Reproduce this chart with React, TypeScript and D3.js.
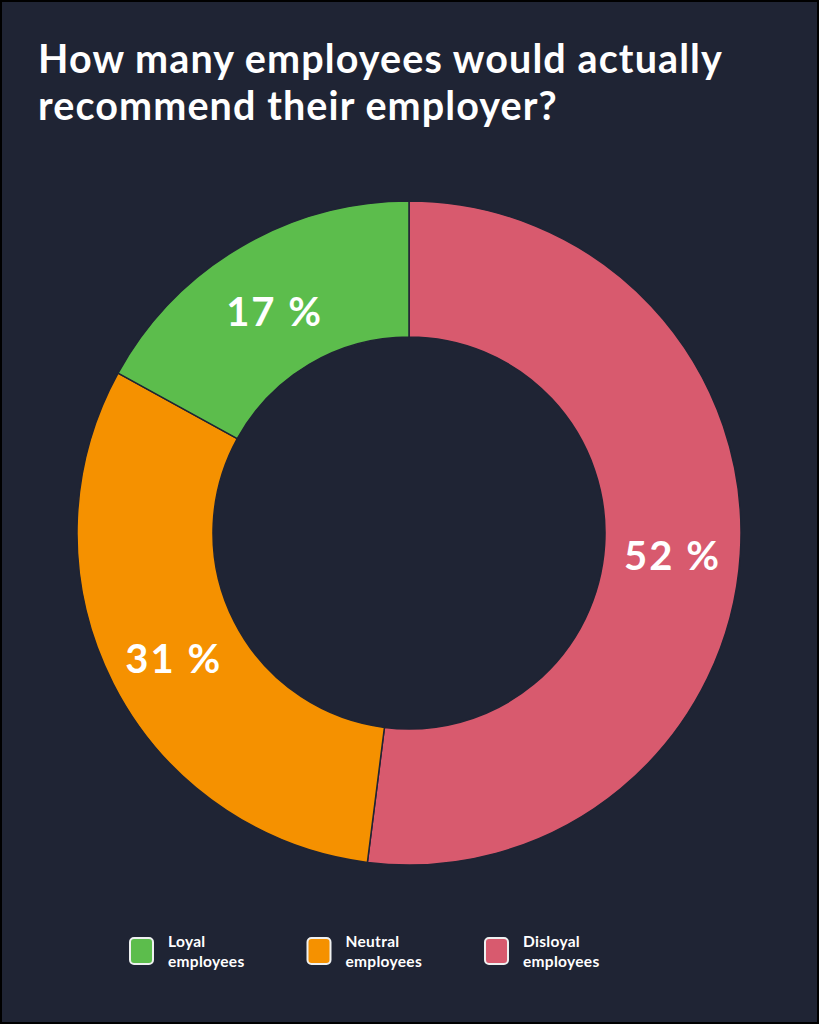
import { useEffect, useRef } from "react";
import * as d3 from "d3";

const categories = ["Disloyal employees", "Neutral employees", "Loyal employees"];
const values = [52, 31, 17];
const sliceColors = ["#d85a6e", "#f59100", "#5cbd4c"];
const legendOrder = ["Loyal employees", "Neutral employees", "Disloyal employees"];
const titleLines = ["How many employees would actually", "recommend their employer?"];

const W = 819;
const H = 1024;
const BG = "#1f2434";
const FONT = "Lato, 'Open Sans', sans-serif";

export default function App ()
{
    const svgRef = useRef<SVGSVGElement>( null );

    useEffect( () =>
    {
        if ( !svgRef.current ) return;
        const svg = d3.select( svgRef.current );
        svg.selectAll( "*" ).remove();

        svg.append( "rect" ).attr( "x", 0 ).attr( "y", 0 ).attr( "width", W ).attr( "height", H )
            .attr( "fill", BG ).attr( "stroke", "#000" ).attr( "stroke-width", 4 );

        // Title
        const title = svg.append( "text" ).attr( "x", 38 ).attr( "fill", "#fff" )
            .style( "font-family", FONT ).style( "font-weight", "700" ).style( "font-size", "39.5px" )
            .style( "letter-spacing", "1.1px" );
        titleLines.forEach( ( t, i ) =>
        {
            title.append( "tspan" ).attr( "x", 38 ).attr( "y", 73 + i * 47 ).text( t );
        } );

        // Donut
        const cx = 409, cy = 533;
        const outerR = 332, innerR = 196;
        const color = d3.scaleOrdinal<string, string>().domain( categories ).range( sliceColors );
        const pie = d3.pie<number>().sort( null ).value( d => d );
        const arcs = pie( values );
        const arc = d3.arc<d3.PieArcDatum<number>>().innerRadius( innerR ).outerRadius( outerR );

        const g = svg.append( "g" ).attr( "transform", `translate(${ cx },${ cy })` );
        g.selectAll( "path" ).data( arcs ).join( "path" )
            .attr( "d", arc )
            .attr( "fill", ( _d, i ) => color( categories[ i ] ) )
            .attr( "stroke", BG ).attr( "stroke-width", 1.5 ).attr( "stroke-linejoin", "round" );

        g.selectAll( "text.lbl" ).data( arcs ).join( "text" ).attr( "class", "lbl" )
            .attr( "transform", d => { const [ x, y ] = arc.centroid( d ); return `translate(${ x },${ y + 5 })`; } )
            .attr( "text-anchor", "middle" ).attr( "dominant-baseline", "central" )
            .attr( "fill", "#fff" ).style( "font-family", FONT ).style( "font-weight", "700" )
            .style( "font-size", "40px" ).style( "letter-spacing", "2px" )
            .text( d => `${ d.data } %` );

        // Legend
        const legendX = d3.scalePoint<string>().domain( legendOrder ).range( [ 129, 484 ] );
        const lg = svg.selectAll( "g.legend" ).data( legendOrder ).join( "g" ).attr( "class", "legend" )
            .attr( "transform", d => `translate(${ legendX( d ) },937)` );
        lg.append( "rect" ).attr( "x", 1 ).attr( "y", 1 ).attr( "width", 23 ).attr( "height", 26 ).attr( "rx", 4 )
            .attr( "fill", d => color( d ) ).attr( "stroke", "#eef0f0" ).attr( "stroke-width", 2 );
        const lt = lg.append( "text" ).attr( "fill", "#fff" ).style( "font-family", FONT )
            .style( "font-weight", "700" ).style( "font-size", "15.5px" ).style( "letter-spacing", "0.3px" );
        lt.append( "tspan" ).attr( "x", 39 ).attr( "y", 10 ).text( d => d.split( " " )[ 0 ] );
        lt.append( "tspan" ).attr( "x", 39 ).attr( "y", 30 ).text( d => d.split( " " )[ 1 ] );
    }, [] );

    return (
        <svg ref={ svgRef } width={ W } height={ H }
            style={ { position: "absolute", left: 0, top: 0, display: "block" } } />
    );
}
